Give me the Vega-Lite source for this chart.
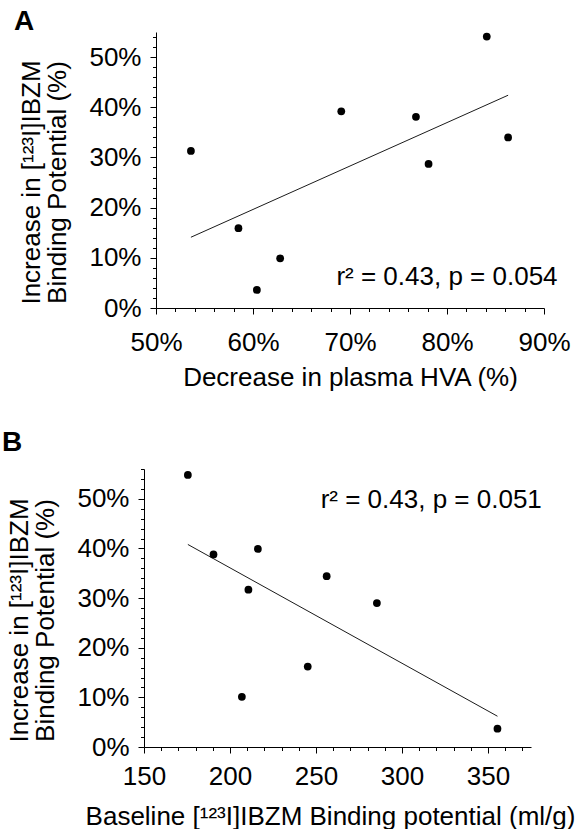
{
  "$schema": "https://vega.github.io/schema/vega-lite/v6.json",
  "background": "white",
  "padding": {"left": 0, "top": 8, "right": 0, "bottom": 0},
  "config": {
    "font": "Liberation Sans",
    "view": {"stroke": null},
    "axis": {
      "domainColor": "black", "domainWidth": 1, "tickColor": "black", "tickWidth": 1,
      "labelColor": "black", "titleColor": "black",
      "labelFontSize": 26, "titleFontSize": 26, "titleFontWeight": "normal",
      "labelFont": "Liberation Sans", "titleFont": "Liberation Sans",
      "grid": false, "labelOverlap": false, "labelFlush": false, "labelBound": false
    },
    "title": {"fontSize": 28, "fontWeight": "bold", "anchor": "start", "color": "black", "font": "Liberation Sans"}
  },
  "spacing": 39,
  "vconcat": [
    {
      "spacing": 0,
      "hconcat": [
        {"width": 13, "height": 10, "data": {"values": [{}]}, "mark": {"type": "point", "opacity": 0, "size": 1}},
        {
          "title": {"text": "A", "frame": "bounds", "dx": -5, "offset": -12},
          "width": 388, "height": 276,
          "encoding": {
            "x": {"field": "x", "type": "quantitative",
              "scale": {"domain": [50, 90], "nice": false, "zero": false},
              "axis": {"title": "Decrease in plasma HVA (%)",
                "values": [50,52,54,56,58,60,62,64,66,68,70,72,74,76,78,80,82,84,86,88,90],
                "labelExpr": "datum.value % 10 === 0 ? datum.value + '%' : ''",
                "tickSize": {"condition": {"test": "datum.value % 10 === 0", "value": 6}, "value": 3.5},
                "labelPadding": 15, "titlePadding": 9}},
            "y": {"field": "y", "type": "quantitative",
              "scale": {"domain": [0, 55], "nice": false},
              "axis": {"title": ["Increase in [¹²³I]IBZM", "Binding Potential (%)"],
                "values": [0,2,4,6,8,10,12,14,16,18,20,22,24,26,28,30,32,34,36,38,40,42,44,46,48,50,52,54],
                "labelExpr": "datum.value % 10 === 0 ? datum.value + '%' : ''",
                "tickSize": {"condition": {"test": "datum.value % 10 === 0", "value": 6}, "value": 3.5},
                "labelPadding": 9, "titlePadding": 18, "titleLineHeight": 26, "titleY": 150}}
          },
          "layer": [
            {
              "data": {"values": [
                {"x": 53.6, "y": 31.3}, {"x": 58.5, "y": 15.9}, {"x": 60.4, "y": 3.6},
                {"x": 62.8, "y": 9.9}, {"x": 69.1, "y": 39.2}, {"x": 76.8, "y": 38.1},
                {"x": 78.1, "y": 28.7}, {"x": 84.1, "y": 54.1}, {"x": 86.3, "y": 34.0}
              ]},
              "mark": {"type": "point", "filled": true, "size": 60, "color": "black", "opacity": 1}
            },
            {
              "data": {"values": [{"x": 53.6, "y": 14.1}, {"x": 86.3, "y": 42.4}]},
              "mark": {"type": "line", "color": "black", "strokeWidth": 0.9}
            },
            {
              "data": {"values": [{"x": 80, "y": 4.6, "label": "r² = 0.43, p = 0.054"}]},
              "mark": {"type": "text", "fontSize": 26, "align": "center", "baseline": "alphabetic", "color": "black", "clip": false},
              "encoding": {"text": {"field": "label"}}
            }
          ]
        }
      ]
    },
    {
      "spacing": 0,
      "hconcat": [
        {"width": 1, "height": 10, "data": {"values": [{}]}, "mark": {"type": "point", "opacity": 0, "size": 1}},
        {
          "title": {"text": "B", "frame": "bounds", "dx": -5, "offset": -1},
          "width": 387, "height": 278,
          "encoding": {
            "x": {"field": "x", "type": "quantitative",
              "scale": {"domain": [150, 375], "nice": false, "zero": false},
              "axis": {"title": "Baseline [¹²³I]IBZM Binding potential (ml/g)",
                "values": [150,160,170,180,190,200,210,220,230,240,250,260,270,280,290,300,310,320,330,340,350,360,370],
                "labelExpr": "datum.value % 50 === 0 ? '' + datum.value : ''",
                "tickSize": {"condition": {"test": "datum.value % 50 === 0", "value": 6}, "value": 3.5},
                "labelPadding": 10, "titlePadding": 14, "titleX": 186}},
            "y": {"field": "y", "type": "quantitative",
              "scale": {"domain": [0, 56], "nice": false},
              "axis": {"title": ["Increase in [¹²³I]IBZM", "Binding Potential (%)"],
                "values": [0,2,4,6,8,10,12,14,16,18,20,22,24,26,28,30,32,34,36,38,40,42,44,46,48,50,52,54,56],
                "labelExpr": "datum.value % 10 === 0 ? datum.value + '%' : ''",
                "tickSize": {"condition": {"test": "datum.value % 10 === 0", "value": 6}, "value": 3.5},
                "labelPadding": 9, "titlePadding": 18, "titleLineHeight": 26, "titleY": 151}}
          },
          "layer": [
            {
              "data": {"values": [
                {"x": 175.5, "y": 54.8}, {"x": 190.4, "y": 38.8}, {"x": 216.2, "y": 39.9},
                {"x": 210.7, "y": 31.7}, {"x": 206.9, "y": 10.1}, {"x": 256.2, "y": 34.4},
                {"x": 285.4, "y": 29.0}, {"x": 245.2, "y": 16.2}, {"x": 355.5, "y": 3.7}
              ]},
              "mark": {"type": "point", "filled": true, "size": 60, "color": "black", "opacity": 1}
            },
            {
              "data": {"values": [{"x": 175.5, "y": 40.8}, {"x": 355.5, "y": 6.2}]},
              "mark": {"type": "line", "color": "black", "strokeWidth": 0.9}
            },
            {
              "data": {"values": [{"x": 317, "y": 48.2, "label": "r² = 0.43, p = 0.051"}]},
              "mark": {"type": "text", "fontSize": 26, "align": "center", "baseline": "alphabetic", "color": "black", "clip": false},
              "encoding": {"text": {"field": "label"}}
            }
          ]
        }
      ]
    }
  ]
}
